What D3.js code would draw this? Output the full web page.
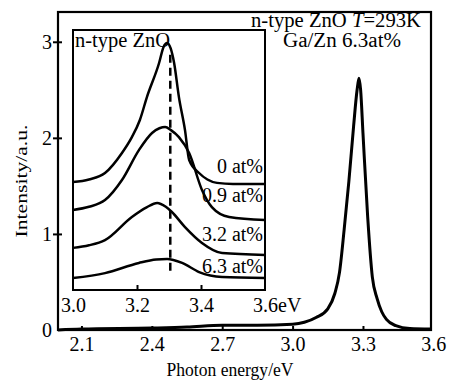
<!DOCTYPE html>
<html>
<head>
<meta charset="utf-8">
<script src="https://cdn.jsdelivr.net/npm/d3@7"></script>
<style>
  html, body { margin: 0; padding: 0; background: #fff; }
  svg { display: block; }
</style>
</head>
<body>
<script>
// ---------- data ----------
// main spectrum (Ga/Zn 6.3 at%, T = 293 K)
const mainEnergy    = [2.00, 2.10, 2.40, 2.55, 2.70, 2.85, 3.00, 3.05, 3.10, 3.15, 3.18, 3.20, 3.22, 3.24, 3.26, 3.275, 3.283, 3.29, 3.30, 3.32, 3.34, 3.36, 3.38, 3.40, 3.44, 3.50, 3.59];
const mainIntensity = [0.00, 0.01, 0.02, 0.03, 0.05, 0.05, 0.06, 0.08, 0.13, 0.22, 0.38, 0.60, 1.05, 1.55, 2.12, 2.50, 2.62, 2.50, 2.05, 1.18, 0.55, 0.33, 0.19, 0.11, 0.045, 0.015, 0.01];
const mainXTicks = [2.1, 2.4, 2.7, 3.0, 3.3, 3.6];
const mainYTicks = [0, 1, 2, 3];

// inset spectra (arbitrary units, offset)
const inset0Energy     = [3.000, 3.050, 3.100, 3.153, 3.184, 3.209, 3.231, 3.269, 3.283, 3.294, 3.305, 3.316, 3.331, 3.350, 3.363, 3.394, 3.420, 3.450, 3.500, 3.600];
const inset0Intensity  = [4.15, 4.25, 4.50, 5.27, 5.88, 6.54, 7.42, 8.73, 9.35, 9.50, 9.30, 8.73, 7.42, 6.15, 5.00, 4.50, 4.25, 4.12, 4.08, 4.08];
const inset09Energy    = [3.000, 3.050, 3.100, 3.153, 3.206, 3.247, 3.270, 3.288, 3.306, 3.331, 3.363, 3.403, 3.434, 3.488, 3.600];
const inset09Intensity = [3.08, 3.20, 3.46, 4.23, 5.38, 6.04, 6.22, 6.27, 6.15, 5.88, 5.27, 3.85, 3.19, 2.81, 2.69];
const inset32Energy    = [3.000, 3.050, 3.100, 3.184, 3.230, 3.263, 3.290, 3.309, 3.350, 3.403, 3.466, 3.600];
const inset32Intensity = [1.62, 1.72, 1.92, 2.81, 3.18, 3.35, 3.20, 3.00, 2.42, 1.81, 1.42, 1.35];
const inset63Energy    = [3.000, 3.100, 3.206, 3.260, 3.294, 3.341, 3.394, 3.466, 3.600];
const inset63Intensity = [0.46, 0.65, 1.04, 1.17, 1.19, 1.04, 0.69, 0.50, 0.46];
const insetLabels = ["0 at%", "0.9 at%", "3.2 at%", "6.3 at%"];
const insetLabelLevel = [4.5, 3.4, 1.9, 0.65];
const insetXTicks = [3.0, 3.2, 3.4, 3.6];
const peakEnergy = 3.304;
const peakLineRange = [0.7, 9.05];

// ---------- drawing ----------
const FONT = "'Liberation Serif', 'Times New Roman', serif";
const W = 452, H = 384;
const svg = d3.select("body").append("svg").attr("width", W).attr("height", H);
svg.append("rect").attr("width", W).attr("height", H).attr("fill", "#fff");

const x = d3.scaleLinear().domain([2.0, 3.59]).range([58, 431]);
const y = d3.scaleLinear().domain([0, 3.31]).range([330, 12]);

// main curve
const mainLine = d3.line().x(d => x(d[0])).y(d => y(d[1])).curve(d3.curveMonotoneX);
svg.append("path")
  .datum(mainEnergy.map((e, i) => [e, mainIntensity[i]]))
  .attr("d", mainLine).attr("fill", "none").attr("stroke", "#000")
  .attr("stroke-width", 3).attr("stroke-linejoin", "round");

// main frame
svg.append("rect")
  .attr("x", x.range()[0]).attr("y", y.range()[1])
  .attr("width", x.range()[1] - x.range()[0]).attr("height", y.range()[0] - y.range()[1])
  .attr("fill", "none").attr("stroke", "#000").attr("stroke-width", 2.2);

// axes
const gx = svg.append("g").attr("transform", `translate(0,${y.range()[0]})`)
  .call(d3.axisBottom(x).tickValues(mainXTicks).tickFormat(d3.format(".1f")).tickSize(-4).tickPadding(7));
gx.select(".domain").remove();
gx.selectAll(".tick line").attr("stroke-width", 2).attr("opacity", d => d >= 3.59 ? 0 : 1);
gx.selectAll("text").attr("font-size", 20);

const gy = svg.append("g").attr("transform", `translate(${x.range()[0]},0)`)
  .call(d3.axisLeft(y).tickValues(mainYTicks).tickFormat(d3.format("d")).tickSize(5).tickPadding(1));
gy.select(".domain").remove();
gy.selectAll(".tick line").attr("x1", 4).attr("stroke-width", 2).attr("opacity", d => d === 0 ? 0 : 1);
gy.selectAll("text").attr("font-size", 20);

// axis titles
svg.append("text").attr("x", 230).attr("y", 376).attr("text-anchor", "middle")
  .attr("font-size", 19).attr("textLength", 127).attr("lengthAdjust", "spacingAndGlyphs")
  .text("Photon energy/eV");
svg.append("text").attr("transform", "translate(27,181) rotate(-90)").attr("text-anchor", "middle")
  .attr("font-size", 17).attr("textLength", 113).attr("lengthAdjust", "spacingAndGlyphs")
  .text("Intensity/a.u.");

// annotation
const ann = svg.append("text").attr("x", 251).attr("y", 27).attr("font-size", 20)
  .attr("textLength", 170).attr("lengthAdjust", "spacingAndGlyphs");
ann.append("tspan").text("n-type ZnO ");
ann.append("tspan").attr("font-style", "italic").text("T");
ann.append("tspan").text("=293K");
svg.append("text").attr("x", 283).attr("y", 47).attr("font-size", 20)
  .attr("textLength", 118).attr("lengthAdjust", "spacingAndGlyphs").text("Ga/Zn 6.3at%");

// ---------- inset ----------
const xi = d3.scaleLinear().domain([3.0, 3.6]).range([73, 265]);
const yi = d3.scaleLinear().domain([0, 10]).range([290, 30]);

svg.append("rect")
  .attr("x", xi.range()[0]).attr("y", yi.range()[1])
  .attr("width", xi.range()[1] - xi.range()[0]).attr("height", yi.range()[0] - yi.range()[1])
  .attr("fill", "#fff").attr("stroke", "#000").attr("stroke-width", 2);

const insetLine = d3.line().x(d => xi(d[0])).y(d => yi(d[1])).curve(d3.curveMonotoneX);
const insetSeries = [
  [inset0Energy, inset0Intensity],
  [inset09Energy, inset09Intensity],
  [inset32Energy, inset32Intensity],
  [inset63Energy, inset63Intensity]
];
insetSeries.forEach(([es, is]) => {
  svg.append("path")
    .datum(es.map((e, i) => [e, is[i]]))
    .attr("d", insetLine).attr("fill", "none").attr("stroke", "#000")
    .attr("stroke-width", 2.5).attr("stroke-linejoin", "round");
});

// dashed peak line
svg.append("line")
  .attr("x1", xi(peakEnergy)).attr("x2", xi(peakEnergy))
  .attr("y1", yi(peakLineRange[1])).attr("y2", yi(peakLineRange[0]))
  .attr("stroke", "#000").attr("stroke-width", 2.5).attr("stroke-dasharray", "8,5");

// inset axis
const gxi = svg.append("g").attr("transform", `translate(0,${yi.range()[0]})`)
  .call(d3.axisBottom(xi).tickValues(insetXTicks).tickFormat(d3.format(".1f")).tickSize(-5).tickPadding(8));
gxi.select(".domain").remove();
gxi.selectAll(".tick line").attr("stroke-width", 2).attr("opacity", d => (d <= 3.0 || d >= 3.6) ? 0 : 1);
gxi.selectAll("text").attr("font-size", 20);
gxi.selectAll(".tick").filter(d => d >= 3.6).select("text")
  .attr("text-anchor", "start").attr("x", -12.5).text("3.6eV");

// inset title and labels
svg.append("text").attr("x", 75).attr("y", 47).attr("font-size", 20)
  .attr("textLength", 95).attr("lengthAdjust", "spacingAndGlyphs").text("n-type ZnO");
svg.selectAll(".ilab").data(insetLabels).enter().append("text")
  .attr("class", "ilab")
  .attr("x", xi.range()[1] - 2)
  .attr("y", (d, i) => yi(insetLabelLevel[i]))
  .attr("text-anchor", "end").attr("font-size", 20)
  .text(d => d);

// uniform serif font for every text element
svg.selectAll("g").attr("font-family", FONT);
svg.selectAll("text").attr("font-family", FONT).style("font-family", FONT).attr("fill", "#000");
</script>
</body>
</html>
